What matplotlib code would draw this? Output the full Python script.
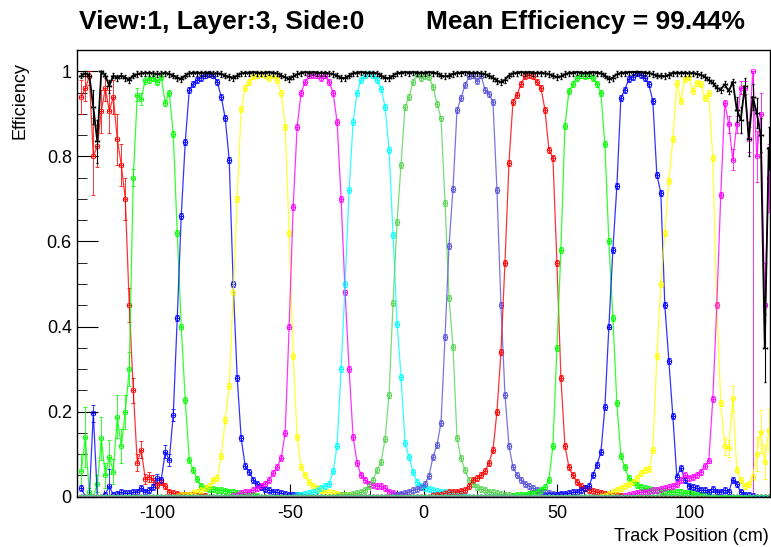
import numpy as np
import matplotlib.pyplot as plt
from matplotlib.ticker import MultipleLocator, FixedLocator, FuncFormatter

# 1.5 cm bins, bin index k = -86 .. 86, centre = 0.5 + 1.5*k  [cm]
k_lo, k_hi = -86, 86
bin_w = 1.5
kk = np.arange(k_lo, k_hi + 1)
x = 0.5 + bin_w * kk

# efficiency per strip: (first bin k, values from that bin on); 0 outside
red_1 = (-86, [0.94, 0.96, 0.988, 0.80, 0.824, 0.906, 0.96, 0.906, 0.94, 0.84, 0.78, 0.70,
               0.45, 0.25, 0.08, 0.11, 0.042, 0.047, 0.04, 0.028, 0.035, 0.024, 0.012, 0.008,
               0.006, 0.005, 0.004, 0.004, 0.003, 0.003, 0.002, 0.002])
green_1 = (-86, [0.06, 0.14, 0.01, 0.0, 0.03, 0.137, 0.05, 0.094, 0.059, 0.188, 0.118, 0.20,
                 0.30, 0.75, 0.945, 0.935, 0.98, 0.98, 0.985, 0.975, 0.987, 0.925, 0.95, 0.853,
                 0.62, 0.40, 0.228, 0.086, 0.063, 0.041, 0.024, 0.02, 0.018, 0.017, 0.016, 0.015,
                 0.014, 0.012, 0.01, 0.008, 0.006, 0.005, 0.004, 0.003, 0.002])
blue_1 = (-86, [0.02, 0.0, 0.0, 0.196, 0.0, 0.0, 0.005, 0.025, 0.004, 0.006, 0.01, 0.008,
                0.008, 0.01, 0.012, 0.02, 0.012, 0.015, 0.022, 0.043, 0.04, 0.106, 0.086, 0.192,
                0.42, 0.66, 0.833, 0.955, 0.97, 0.98, 0.985, 0.99, 0.993, 0.99, 0.975, 0.94,
                0.89, 0.792, 0.50, 0.28, 0.137, 0.072, 0.059, 0.04, 0.03, 0.022, 0.018, 0.015,
                0.012, 0.01, 0.008, 0.006, 0.005, 0.004, 0.003, 0.002])
yellow_1 = (-62, [0.002, 0.003, 0.004, 0.005, 0.008, 0.01, 0.015, 0.02, 0.024, 0.04, 0.043, 0.096,
                  0.18, 0.26, 0.48, 0.70, 0.912, 0.96, 0.974, 0.988, 0.99, 0.993, 0.99, 0.985,
                  0.99, 0.98, 0.95, 0.87, 0.62, 0.33, 0.14, 0.07, 0.05, 0.035, 0.025, 0.02,
                  0.015, 0.012, 0.01, 0.008, 0.006, 0.005, 0.004, 0.003, 0.002])
magenta_1 = (-48, [0.003, 0.005, 0.008, 0.01, 0.012, 0.015, 0.02, 0.025, 0.03, 0.04, 0.055, 0.07,
                   0.09, 0.15, 0.40, 0.68, 0.87, 0.95, 0.975, 0.99, 0.992, 0.99, 0.985, 0.99,
                   0.975, 0.95, 0.88, 0.70, 0.48, 0.30, 0.14, 0.08, 0.05, 0.04, 0.03, 0.027,
                   0.025, 0.024, 0.02, 0.012, 0.008, 0.005, 0.003, 0.002])
cyan_1 = (-32, [0.003, 0.005, 0.006, 0.008, 0.01, 0.015, 0.02, 0.025, 0.03, 0.06, 0.12, 0.30,
                0.50, 0.72, 0.88, 0.95, 0.98, 0.99, 0.995, 0.99, 0.98, 0.959, 0.917, 0.814,
                0.616, 0.407, 0.282, 0.126, 0.093, 0.059, 0.035, 0.025, 0.02, 0.018, 0.015, 0.013,
                0.012, 0.01, 0.008, 0.006, 0.004, 0.003, 0.002])
lgreen_1 = (-22, [0.002, 0.003, 0.004, 0.005, 0.007, 0.008, 0.01, 0.015, 0.025, 0.04, 0.063, 0.081,
                  0.136, 0.24, 0.456, 0.646, 0.78, 0.917, 0.94, 0.975, 0.993, 0.984, 0.989, 0.987,
                  0.962, 0.924, 0.889, 0.691, 0.468, 0.351, 0.138, 0.09, 0.062, 0.04, 0.03, 0.022,
                  0.018, 0.015, 0.012, 0.01, 0.008, 0.006, 0.004, 0.003, 0.002])
slate_1 = (-8, [0.003, 0.005, 0.007, 0.009, 0.012, 0.015, 0.018, 0.022, 0.03, 0.049, 0.094, 0.122,
                0.174, 0.375, 0.59, 0.724, 0.908, 0.937, 0.967, 0.988, 0.99, 0.976, 0.99, 0.957,
                0.947, 0.927, 0.72, 0.45, 0.24, 0.12, 0.07, 0.05, 0.04, 0.03, 0.025, 0.02,
                0.015, 0.012, 0.01, 0.008, 0.006, 0.004, 0.003, 0.002])
red_2 = (2, [0.003, 0.004, 0.006, 0.008, 0.01, 0.011, 0.012, 0.013, 0.015, 0.024, 0.04, 0.043,
             0.05, 0.06, 0.08, 0.11, 0.20, 0.34, 0.55, 0.784, 0.928, 0.945, 0.969, 0.989,
             0.992, 0.988, 0.974, 0.961, 0.91, 0.816, 0.796, 0.55, 0.28, 0.12, 0.07, 0.05,
             0.035, 0.025, 0.02, 0.016, 0.013, 0.011, 0.009, 0.007, 0.005, 0.004, 0.003, 0.002])
green_2 = (22, [0.002, 0.003, 0.004, 0.005, 0.007, 0.009, 0.012, 0.016, 0.022, 0.04, 0.12, 0.35,
                0.58, 0.871, 0.953, 0.969, 0.985, 0.99, 0.988, 0.99, 0.985, 0.97, 0.95, 0.828,
                0.60, 0.42, 0.22, 0.096, 0.069, 0.043, 0.035, 0.028, 0.022, 0.02, 0.018, 0.016,
                0.015, 0.014, 0.013, 0.012, 0.011, 0.01, 0.01, 0.009, 0.008, 0.007, 0.005, 0.004,
                0.003, 0.002])
blue_2 = (30, [0.002, 0.003, 0.004, 0.005, 0.006, 0.007, 0.008, 0.01, 0.012, 0.015, 0.02, 0.024,
               0.051, 0.075, 0.104, 0.21, 0.40, 0.58, 0.73, 0.937, 0.957, 0.982, 0.987, 0.995,
               0.992, 0.984, 0.969, 0.93, 0.757, 0.714, 0.45, 0.32, 0.19, 0.047, 0.068, 0.04,
               0.025, 0.022, 0.02, 0.015, 0.015, 0.012, 0.018, 0.012, 0.012, 0.015, 0.012, 0.04,
               0.03, 0.01, 0.005, 0.003, 0.002])
yellow_2 = (44, [0.002, 0.004, 0.006, 0.01, 0.015, 0.02, 0.025, 0.03, 0.035, 0.045, 0.055, 0.063,
                 0.064, 0.109, 0.33, 0.50, 0.62, 0.741, 0.84, 0.973, 0.93, 0.982, 0.987, 0.953,
                 0.973, 0.971, 0.937, 0.949, 0.796, 0.45, 0.22, 0.118, 0.114, 0.231, 0.063, 0.04,
                 0.024, 0.03, 0.047, 0.10, 0.153, 0.082, 0.157])
magenta_2 = (50, [0.002, 0.004, 0.006, 0.008, 0.01, 0.012, 0.014, 0.015, 0.016, 0.017, 0.02, 0.022,
                  0.025, 0.03, 0.04, 0.051, 0.045, 0.047, 0.051, 0.059, 0.072, 0.085, 0.229, 0.45,
                  0.71, 0.926, 0.875, 0.792, 0.875, 0.961, 0.961, 0.84, 1.0, 0.80, 0.90, 0.45,
                  0.75])
# strips beyond the chamber edge: no hits at all
cyan_2 = (-86, [0.0] * 173)
lgreen_2 = (-86, [0.0] * 173)

# all strips combined, k = -86 .. 86
total = [0.99, 0.995, 0.99, 0.915, 0.835, 1.0, 0.99, 0.965, 0.99, 0.985, 0.99, 0.985, 0.98, 0.99,
         0.993, 0.995, 0.996,
         0.996, 0.995, 0.993, 0.995, 0.996, 0.994, 0.99, 0.985, 0.982, 0.99, 0.995, 0.997, 0.997,
         0.996, 0.997, 0.996, 0.995,
         0.995, 0.994, 0.99, 0.987, 0.985, 0.99, 0.995, 0.997, 0.997, 0.998, 0.997, 0.996, 0.997,
         0.998, 0.996, 0.995, 0.99,
         0.986, 0.982, 0.988, 0.993, 0.996, 0.998, 0.997, 0.998, 0.997, 0.996, 0.997, 0.995,
         0.993, 0.99, 0.985, 0.984, 0.99,
         0.995, 0.997, 0.998, 0.997, 0.996, 0.997, 0.995, 0.99, 0.985, 0.984, 0.99, 0.995, 0.997,
         0.998, 0.997, 0.998, 0.997,
         0.996, 0.997, 0.998, 0.997, 0.995, 0.99, 0.988, 0.99, 0.994, 0.996, 0.997, 0.998, 0.997,
         0.996, 0.997, 0.995, 0.993,
         0.99, 0.985, 0.978, 0.974, 0.98, 0.99, 0.995, 0.997, 0.998, 0.997, 0.998, 0.997, 0.996,
         0.997, 0.995, 0.993, 0.99,
         0.986, 0.988, 0.993, 0.996, 0.997, 0.998, 0.997, 0.996, 0.997, 0.998, 0.997, 0.995,
         0.99, 0.982, 0.985, 0.993, 0.996,
         0.997, 0.998, 0.998, 0.999, 0.998, 0.997, 0.996, 0.993, 0.99, 0.99, 0.988, 0.992, 0.996,
         0.997, 0.996, 0.997, 0.995,
         0.996, 0.994, 0.992, 0.987, 0.979, 0.973, 0.961, 0.957, 0.969, 0.953, 0.975,
         0.91, 0.886, 0.965, 0.84, 0.94, 0.902, 0.85, 0.35, 0.82]

# larger error bars on the sparse bins near the chamber edges {k: error}
red_1_err = {-86: 0.04, -85: 0.03, -84: 0.02, -83: 0.09, -82: 0.05, -81: 0.05, -80: 0.03,
             -79: 0.05, -78: 0.04, -77: 0.06, -76: 0.05, -75: 0.05, -74: 0.04, -73: 0.03,
             -72: 0.02, -71: 0.02, -70: 0.012, -69: 0.012, -68: 0.01}
green_1_err = {-86: 0.04, -85: 0.07, -84: 0.01, -82: 0.02, -81: 0.05, -80: 0.03, -79: 0.04,
               -78: 0.03, -77: 0.05, -76: 0.04, -75: 0.04, -74: 0.04, -73: 0.02, -72: 0.015,
               -71: 0.015, -70: 0.01}
blue_1_err = {-83: 0.02, -79: 0.04, -67: 0.01, -65: 0.015, -64: 0.015, -63: 0.015}
yellow_2_err = {75: 0.02, 76: 0.02, 77: 0.03, 83: 0.04, 84: 0.05, 85: 0.04, 86: 0.05}
magenta_2_err = {76: 0.02, 77: 0.025, 78: 0.02, 79: 0.015, 80: 0.015, 81: 0.03, 82: 1.0,
                 83: 0.06, 84: 0.05, 85: 0.1, 86: 0.08}
total_err = {-83: 0.04, -82: 0.05, -79: 0.015, 78: 0.03, 79: 0.03, 80: 0.02, 81: 0.04, 82: 0.03,
             83: 0.035, 84: 0.04, 85: 0.08, 86: 0.05}

channels = [(red_1, '#ff0000', red_1_err), (green_1, '#00ff00', green_1_err),
            (blue_1, '#0000ff', blue_1_err), (yellow_1, '#ffff00', {}),
            (magenta_1, '#ff00ff', {}), (cyan_1, '#00ffff', {}),
            (lgreen_1, '#59d454', {}), (slate_1, '#5954d9', {}),
            (red_2, '#ff0000', {}), (green_2, '#00ff00', {}),
            (blue_2, '#0000ff', {}), (yellow_2, '#ffff00', yellow_2_err),
            (magenta_2, '#ff00ff', magenta_2_err), (cyan_2, '#00ffff', {}),
            (lgreen_2, '#59d454', {})]


def full_range(start, vals):
    y = np.zeros(len(x))
    i0 = start - k_lo
    y[i0:i0 + len(vals)] = vals
    return y


def error_bars(y, big):
    lo = np.where(y > 0, 0.007, 0.0)
    hi = np.where(y > 0, 0.007, 0.0)
    for k, e in big.items():
        i = k - k_lo
        lo[i] = min(e, y[i])
        hi[i] = min(e, 1.0 - y[i]) if y[i] < 1 else 0.0
    hi = np.minimum(hi, 1.0 - y)
    return [lo, hi]


plt.rcParams['font.family'] = ['Liberation Sans', 'DejaVu Sans']
plt.rcParams['axes.unicode_minus'] = False
fig = plt.figure(figsize=(7.71, 5.47), dpi=100)
ax = fig.add_axes([0.1003, 0.092, 0.8985, 0.8166])

for (start, vals), col, big in channels:
    y = full_range(start, vals)
    ax.errorbar(x, y, xerr=bin_w / 2, yerr=error_bars(y, big), fmt='-o', color=col,
                ms=3.2, mfc='none', mew=0.7, lw=0.9, elinewidth=0.7, capsize=1.2,
                alpha=0.8, clip_on=True)

ytot = np.array(total)
ax.errorbar(x, ytot, xerr=bin_w / 2, yerr=error_bars(ytot, total_err), fmt='-', color='black',
            lw=1.3, elinewidth=0.8, capsize=1.0, zorder=5)

ax.set_xlim(-130, 130)
ax.set_ylim(0, 1.05)
ax.xaxis.set_major_locator(FixedLocator([-100, -50, 0, 50, 100]))
ax.xaxis.set_minor_locator(MultipleLocator(10))
ax.yaxis.set_major_locator(FixedLocator([0, 0.2, 0.4, 0.6, 0.8, 1.0]))
ax.yaxis.set_minor_locator(MultipleLocator(0.05))
ax.yaxis.set_major_formatter(FuncFormatter(lambda v, p: '%g' % round(v, 2)))
ax.tick_params(which='both', direction='in', top=False, right=False, labelsize=13)
ax.tick_params(axis='x', which='major', length=9.4, pad=6)
ax.tick_params(axis='x', which='minor', length=4.7)
ax.tick_params(axis='y', which='major', length=15, pad=4)
ax.tick_params(axis='y', which='minor', length=7.5)
for s in ax.spines.values():
    s.set_linewidth(1.0)

fig.text(20 / 771, 1 - 62 / 547, 'Efficiency', rotation=90, ha='center', va='top', fontsize=13)
fig.text(769 / 771, 1 - 541 / 547, 'Track Position (cm)', ha='right', va='baseline', fontsize=13)
fig.text(79 / 771, 1 - 29.5 / 547, 'View:1, Layer:3, Side:0', ha='left', va='baseline',
         fontsize=19, fontweight='bold')
fig.text(745 / 771, 1 - 29.5 / 547, 'Mean Efficiency = 99.44%', ha='right', va='baseline',
         fontsize=19, fontweight='bold')

fig.savefig('out.png', dpi=100)
